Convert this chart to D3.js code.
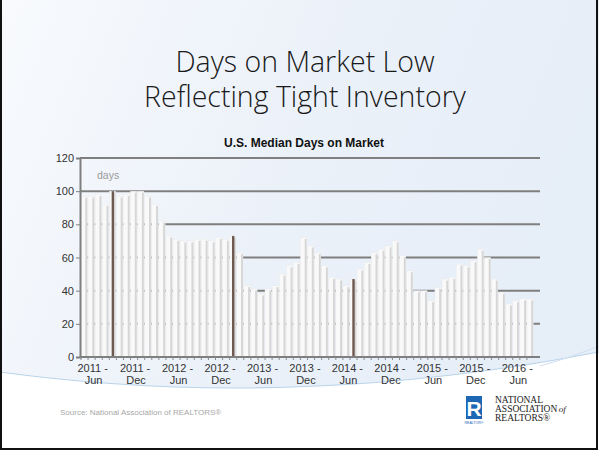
<!DOCTYPE html>
<html>
<head>
<meta charset="utf-8">
<script src="https://cdn.jsdelivr.net/npm/d3@7/dist/d3.min.js"></script>
<style>
  html, body { margin: 0; padding: 0; background: #fff; }
  svg { display: block; }
</style>
</head>
<body>
<svg id="chart" width="599" height="452"></svg>
<script>
// ---------- data ----------
const categories = [
  "2011-May","2011-Jun","2011-Jul","2011-Aug","2011-Sep","2011-Oct","2011-Nov","2011-Dec",
  "2012-Jan","2012-Feb","2012-Mar","2012-Apr","2012-May","2012-Jun","2012-Jul","2012-Aug",
  "2012-Sep","2012-Oct","2012-Nov","2012-Dec","2013-Jan","2013-Feb","2013-Mar","2013-Apr",
  "2013-May","2013-Jun","2013-Jul","2013-Aug","2013-Sep","2013-Oct","2013-Nov","2013-Dec",
  "2014-Jan","2014-Feb","2014-Mar","2014-Apr","2014-May","2014-Jun","2014-Jul","2014-Aug",
  "2014-Sep","2014-Oct","2014-Nov","2014-Dec","2015-Jan","2015-Feb","2015-Mar","2015-Apr",
  "2015-May","2015-Jun","2015-Jul","2015-Aug","2015-Sep","2015-Oct","2015-Nov","2015-Dec",
  "2016-Jan","2016-Feb","2016-Mar","2016-Apr","2016-May","2016-Jun","2016-Jul","2016-Aug"
];
const daysOnMarket = [
  97, 97, 98, 92, 100, 97, 98, 100,
  100, 97, 92, 82, 73, 71, 70, 70,
  71, 71, 70, 72, 71, 73, 63, 43,
  41, 38, 41, 43, 50, 55, 57, 72,
  67, 63, 55, 48, 47, 43, 47, 53,
  57, 63, 65, 67, 70, 61, 52, 40,
  40, 34, 42, 47, 48, 56, 55, 58,
  65, 60, 47, 39, 32, 34, 35, 35
];
const highlighted = ["2011-Sep", "2013-Feb", "2014-Jul"];
const tickCategories = ["2011-Jun","2011-Dec","2012-Jun","2012-Dec","2013-Jun","2013-Dec","2014-Jun","2014-Dec","2015-Jun","2015-Dec","2016-Jun"];
const tickYears  = ["2011 -","2011 -","2012 -","2012 -","2013 -","2013 -","2014 -","2014 -","2015 -","2015 -","2016 -"];
const tickMonths = ["Jun","Dec","Jun","Dec","Jun","Dec","Jun","Dec","Jun","Dec","Jun"];
const yTicks = [0, 20, 40, 60, 80, 100, 120];

// ---------- drawing ----------
const svg = d3.select("#chart");
const W = 599, H = 452;
const defs = svg.append("defs");
const bg = defs.append("linearGradient").attr("id", "bg").attr("x1", 0).attr("y1", 0).attr("x2", 1).attr("y2", 0.3);
bg.append("stop").attr("offset", "0%").attr("stop-color", "#f8fafd");
bg.append("stop").attr("offset", "55%").attr("stop-color", "#ebf1f9");
bg.append("stop").attr("offset", "100%").attr("stop-color", "#e6eef8");

svg.append("rect").attr("width", W).attr("height", H).attr("fill", "url(#bg)");
// lower white swoosh area
svg.append("path")
  .attr("d", "M0,372 Q290,412 599,352 L599,452 L0,452 Z")
  .attr("fill", "#ffffff");
svg.append("path")
  .attr("d", "M0,372 Q290,412 599,352")
  .attr("fill", "none").attr("stroke", "#b9d3ea").attr("stroke-width", 1.2);
svg.append("path")
  .attr("d", "M540,366 Q575,356 599,346")
  .attr("fill", "none").attr("stroke", "#cfe0f0").attr("stroke-width", 1);

// frame
svg.append("rect").attr("x", 1).attr("y", -2).attr("width", W - 3).attr("height", H - 1)
  .attr("fill", "none").attr("stroke", "#111").attr("stroke-width", 2);

// titles
const title = svg.append("text").attr("text-anchor", "middle")
  .attr("font-family", "'Open Sans', 'Liberation Sans', sans-serif")
  .attr("font-weight", 300).attr("font-size", 28.5).attr("fill", "#1a1a1a");
title.append("tspan").attr("x", 305).attr("y", 72).text("Days on Market Low");
title.append("tspan").attr("x", 305).attr("y", 107).text("Reflecting Tight Inventory");

svg.append("text").attr("x", 304).attr("y", 147).attr("text-anchor", "middle")
  .attr("font-family", "'Liberation Sans', Arial, sans-serif").attr("font-weight", "bold")
  .attr("font-size", 12).attr("fill", "#111").text("U.S. Median Days on Market");

// scales
const x = d3.scaleBand().domain(categories).range([81, 534]).padding(0);
const y = d3.scaleLinear().domain([0, 120]).range([357, 158]);
const step = x.bandwidth();
const gridLeft = 80, gridRight = 540;

// gridlines
svg.append("g").selectAll("line").data(yTicks.filter(t => t > 0)).join("line")
  .attr("x1", gridLeft).attr("x2", gridRight)
  .attr("y1", d => y(d)).attr("y2", d => y(d))
  .attr("stroke", "#7f7f7f").attr("stroke-width", 2);

// bars
const bars = svg.append("g");
const dataRows = categories.map((c, i) => ({ c, v: daysOnMarket[i] }));
bars.selectAll("rect.face").data(dataRows).join("rect").attr("class", "face")
  .attr("x", d => x(d.c)).attr("width", step - 0.8)
  .attr("y", d => y(d.v)).attr("height", d => y(0) - y(d.v))
  .attr("fill", "#f9f9f9").attr("stroke", "#e8e8e8").attr("stroke-width", 0.4);
bars.selectAll("rect.side").data(dataRows).join("rect").attr("class", "side")
  .attr("x", d => x(d.c) + step - 2.8).attr("width", 1.9)
  .attr("y", d => y(d.v) + 1.5).attr("height", d => y(0) - y(d.v) - 1.5)
  .attr("fill", "#d6d6d6");
bars.selectAll("rect.dark").data(dataRows.filter(d => highlighted.includes(d.c))).join("rect").attr("class", "dark")
  .attr("x", d => x(d.c) + step / 2 - 1.2).attr("width", 2.4)
  .attr("y", d => y(d.v)).attr("height", d => y(0) - y(d.v))
  .attr("fill", "#6e5a50");

// axes
const yAxis = svg.append("g").attr("transform", `translate(${gridLeft},0)`)
  .call(d3.axisLeft(y).tickValues(yTicks).tickSize(4).tickPadding(2));
yAxis.select(".domain").attr("stroke", "#7f7f7f").attr("stroke-width", 2);
yAxis.selectAll(".tick line").attr("stroke", "#7f7f7f");
yAxis.selectAll("text").attr("font-family", "'Liberation Sans', Arial, sans-serif")
  .attr("font-size", 11).attr("fill", "#333");

svg.append("line").attr("x1", gridLeft).attr("x2", gridRight).attr("y1", y(0)).attr("y2", y(0))
  .attr("stroke", "#7f7f7f").attr("stroke-width", 2);
svg.append("g").selectAll("line").data(categories).join("line")
  .attr("x1", d => x(d)).attr("x2", d => x(d)).attr("y1", y(0)).attr("y2", y(0) + 3)
  .attr("stroke", "#8a8a8a").attr("stroke-width", 1);

const xl = svg.append("g").attr("font-family", "'Liberation Sans', Arial, sans-serif")
  .attr("font-size", 11).attr("fill", "#333").attr("text-anchor", "middle");
tickCategories.forEach((c, i) => {
  const cx = x(c) + step / 2 + 1;
  const t = xl.append("text");
  t.append("tspan").attr("x", cx).attr("y", 372).text(tickYears[i]);
  t.append("tspan").attr("x", cx + 1).attr("y", 384).text(tickMonths[i]);
});

// unit label
svg.append("text").attr("x", 97).attr("y", 179)
  .attr("font-family", "'Liberation Sans', Arial, sans-serif").attr("font-size", 10.5)
  .attr("fill", "#9a9a9a").text("days");

// source
svg.append("text").attr("x", 60).attr("y", 415)
  .attr("font-family", "'Liberation Sans', Arial, sans-serif").attr("font-size", 8)
  .attr("fill", "#a8a8a8").text("Source: National Association of REALTORS®");

// NAR logo
const logo = svg.append("g");
logo.append("rect").attr("x", 466).attr("y", 396).attr("width", 16).attr("height", 23).attr("fill", "#1d67b5");
logo.append("text").attr("x", 474).attr("y", 416).attr("text-anchor", "middle")
  .attr("font-family", "'Liberation Sans', Arial, sans-serif").attr("font-weight", "bold")
  .attr("font-size", 21).attr("fill", "#fff").text("R");
logo.append("text").attr("x", 474).attr("y", 424).attr("text-anchor", "middle")
  .attr("font-family", "'Liberation Sans', Arial, sans-serif").attr("font-size", 3.5)
  .attr("fill", "#1d67b5").text("REALTOR®");
const lt = logo.append("text").attr("font-family", "'Liberation Serif', 'DejaVu Serif', serif")
  .attr("font-size", 9.5).attr("fill", "#222");
lt.append("tspan").attr("x", 495).attr("y", 403).text("NATIONAL");
lt.append("tspan").attr("x", 495).attr("y", 412).text("ASSOCIATION");
lt.append("tspan").attr("dx", 1.5).attr("font-style", "italic").attr("font-size", 9).text("of");
lt.append("tspan").attr("x", 495).attr("y", 421).text("REALTORS®");
</script>
</body>
</html>
